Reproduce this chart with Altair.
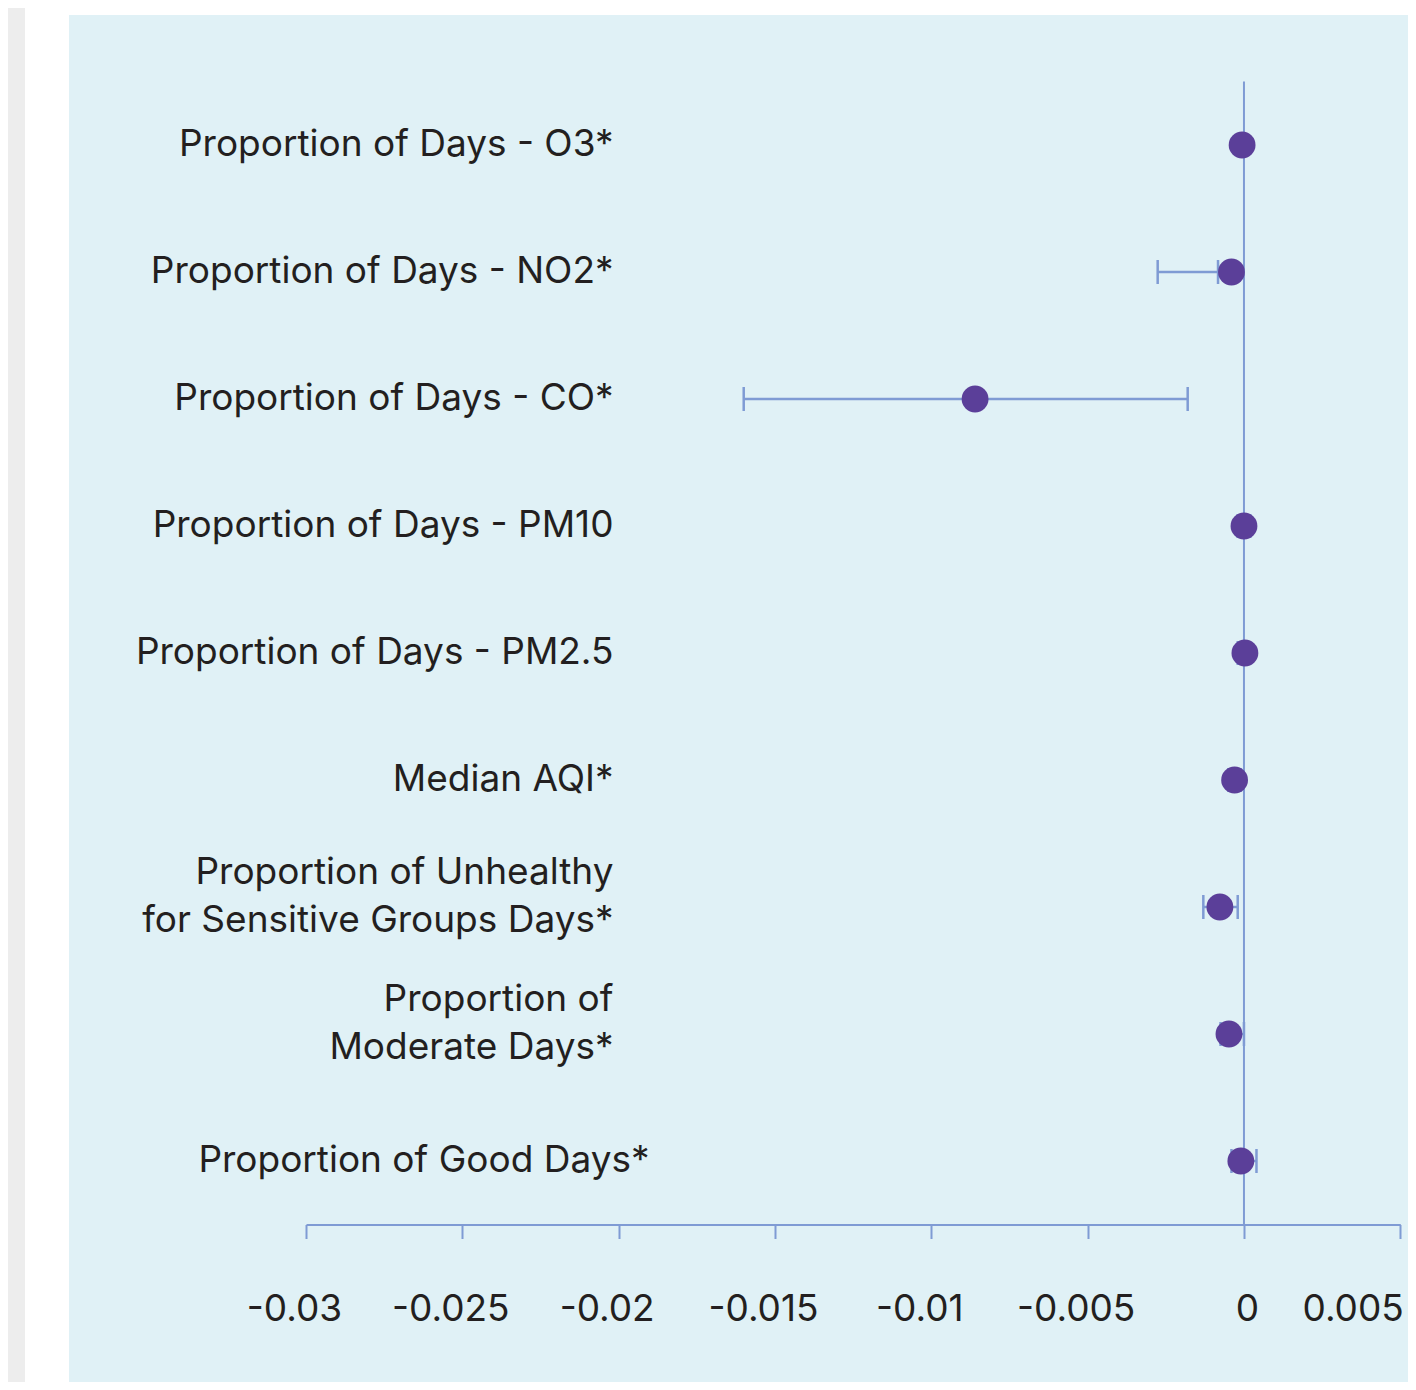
import altair as alt
import pandas as pd

# ---- data ----
categories = [
    "Proportion of Days - O3*",
    "Proportion of Days - NO2*",
    "Proportion of Days - CO*",
    "Proportion of Days - PM10",
    "Proportion of Days - PM2.5",
    "Median AQI*",
    "Proportion of Unhealthy\nfor Sensitive Groups Days*",
    "Proportion of\nModerate Days*",
    "Proportion of Good Days*",
]
estimates = [-0.00006, -0.0004, -0.0086, 0.0, 0.00003, -0.0003, -0.00077, -0.00048, -0.0001]
ci_low = [-0.0002, -0.00276, -0.016, -0.0002, -0.0002, -0.0005, -0.0013, -0.00075, -0.0004]
ci_high = [0.0001, -0.00083, -0.0018, 0.0002, 0.0002, -0.0001, -0.0002, 0.0, 0.0004]
x_ticks = [-0.03, -0.025, -0.02, -0.015, -0.01, -0.005, 0, 0.005]

df = pd.DataFrame({"cat": categories, "est": estimates, "lo": ci_low, "hi": ci_high})

LINE = "#7F9BD4"
DOT = "#5B3F99"
BG = "#E0F1F6"
TXT = "#231F20"
FONT = "Inter"

PAD_L, PAD_T = 298, 73.5
W, H = 1094.3, 1143
TOTAL_W, TOTAL_H = 1400, 1374
PAD_R = TOTAL_W - PAD_L - W
PAD_B = TOTAL_H - PAD_T - H

xscale = alt.Scale(domain=[-0.03, 0.005], nice=False, zero=False)
yscale = alt.Scale(domain=categories, paddingInner=0, paddingOuter=0)

xaxis = alt.Axis(
    values=x_ticks,
    labelExpr="'' + datum.value",
    title=None,
    grid=False,
    zindex=2,
    domainColor=LINE,
    domainWidth=2,
    tickColor=LINE,
    tickWidth=2,
    tickSize=14,
    labelFont=FONT,
    labelFontSize=37,
    labelColor=TXT,
    labelBaseline="alphabetic",
    labelPadding=82,
    labelAlign={"condition": {"test": "datum.value > 0", "value": "right"}, "value": "center"},
    labelOffset={"condition": {"test": "datum.value < 0", "value": -12}, "value": 3},
)
yaxis = alt.Axis(
    title=None,
    domain=False,
    ticks=False,
    tickSize=0,
    grid=False,
    zindex=2,
    offset=-307,
    labelPadding={"condition": {"test": "datum.label == 'Proportion of Good Days*'", "value": -36}, "value": 0},
    labelOffset={"condition": {"test": "indexof(datum.label, '\\n') >= 0", "value": -34}, "value": 0},
    labelLimit=0,
    labelFont=FONT,
    labelFontSize=37,
    labelColor=TXT,
    labelAlign="right",
    labelBaseline="middle",
    labelLineHeight=48,
    labelExpr="split(datum.label, '\\n')",
)

one = alt.Data(values=[{"a": 1}])

bg_blue = alt.Chart(one).mark_rect(color=BG).encode(
    x=alt.value(69 - 8 - PAD_L), x2=alt.value(TOTAL_W - PAD_L),
    y=alt.value(15 - 8 - PAD_T), y2=alt.value(TOTAL_H - PAD_T),
)
bg_grey = alt.Chart(one).mark_rect(color="#EDEDED").encode(
    x=alt.value(-PAD_L), x2=alt.value(25 - 8 - PAD_L),
    y=alt.value(-PAD_T), y2=alt.value(TOTAL_H - PAD_T),
)

base = alt.Chart(df)

zero_rule = alt.Chart(one).mark_rule(color=LINE, strokeWidth=2).encode(
    x=alt.datum(0, scale=xscale),
)

err = base.mark_rule(color=LINE, strokeWidth=2.5).encode(
    x=alt.X("lo:Q", scale=xscale, axis=xaxis),
    x2="hi:Q",
    y=alt.Y("cat:N", scale=yscale, sort=categories, axis=yaxis),
)
cap_lo = base.mark_tick(color=LINE, thickness=2.5, size=24, opacity=1).encode(
    x=alt.X("lo:Q", scale=xscale),
    y=alt.Y("cat:N", scale=yscale, sort=categories),
)
cap_hi = base.mark_tick(color=LINE, thickness=2.5, size=24, opacity=1).encode(
    x=alt.X("hi:Q", scale=xscale),
    y=alt.Y("cat:N", scale=yscale, sort=categories),
)
dots = base.mark_circle(color=DOT, size=720, opacity=1).encode(
    x=alt.X("est:Q", scale=xscale),
    y=alt.Y("cat:N", scale=yscale, sort=categories),
)

chart = (
    alt.layer(bg_blue, bg_grey, zero_rule, err, cap_lo, cap_hi, dots)
    .properties(
        width=W,
        height=H,
        padding={"left": PAD_L, "top": PAD_T, "right": PAD_R, "bottom": PAD_B},
        autosize=alt.AutoSizeParams(type="none"),
        background="white",
    )
    .configure_view(stroke="transparent")
)

chart.save("out.html", embed_options={"renderer": "svg", "actions": False})
